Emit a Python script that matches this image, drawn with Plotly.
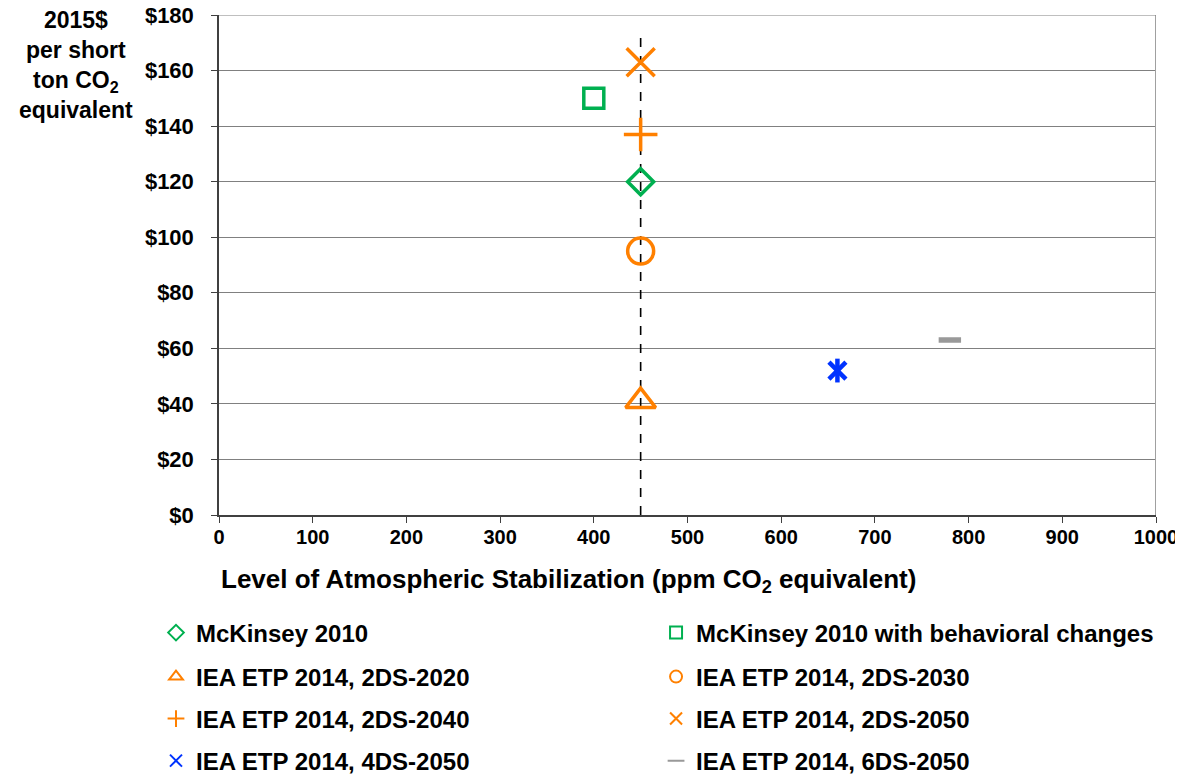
import plotly.graph_objects as go

# one point per study / scenario
names = ["McKinsey 2010", "McKinsey 2010 with behavioral changes",
         "IEA ETP 2014, 2DS-2020", "IEA ETP 2014, 2DS-2030",
         "IEA ETP 2014, 2DS-2040", "IEA ETP 2014, 2DS-2050",
         "IEA ETP 2014, 4DS-2050", "IEA ETP 2014, 6DS-2050"]
ppm = [450, 400, 450, 450, 450, 450, 660, 780]
cost = [120, 150, 41, 95, 137, 163, 52, 63]

symbols = ["diamond-open", "square-open", "triangle-up-open", "circle-open",
           "cross-thin-open", "x-thin-open", "x-thin-open", "line-ew-open"]
sizes = [20, 20, 26, 26, 24, 28, 17, 16]
widths = [3.5, 3.5, 3.5, 3.5, 3.5, 3.5, 4.5, 5.5]
colors = ["#00B050", "#00B050", "#FF8000", "#FF8000", "#FF8000", "#FF8000",
          "#0033FF", "#999999"]

target_ppm = [450, 450]
target_cost = [0, 172]

yticks = list(range(0, 181, 20))
xticks = list(range(0, 1001, 100))

FONT = "Liberation Sans, Arial, sans-serif"

fig = go.Figure()

# dashed reference line at 450 ppm
fig.add_trace(go.Scatter(x=target_ppm, y=target_cost, mode="lines",
                         line=dict(color="black", width=1.6, dash="dash"),
                         showlegend=False, hoverinfo="skip"))

# one legend per entry so the 2x4 grid can be placed freely
legend_ids = ["legend"] + ["legend%d" % k for k in range(2, 9)]

for i, n in enumerate(names):
    fig.add_trace(go.Scatter(
        x=[ppm[i]], y=[cost[i]], mode="markers", name=n, legend=legend_ids[i],
        marker=dict(symbol=symbols[i], size=sizes[i], color=colors[i],
                    line=dict(color=colors[i], width=widths[i]))))

# vertical bar of the 4DS star marker
fig.add_trace(go.Scatter(x=[ppm[6]], y=[cost[6]], mode="markers", showlegend=False,
                         marker=dict(symbol="line-ns-open", size=17, color=colors[6],
                                     line=dict(color=colors[6], width=4.5))))

legend_style = dict(orientation="h", xref="container", yref="container",
                    xanchor="left", yanchor="middle",
                    font=dict(family=FONT, size=24, weight="bold"),
                    itemsizing="constant", bgcolor="rgba(0,0,0,0)")
col_x = [0.1251, 0.5478]
row_y = [0.1946, 0.1379, 0.0838, 0.0296]

legends = {}
for i, lid in enumerate(legend_ids):
    legends[lid] = dict(legend_style, x=col_x[i % 2], y=row_y[i // 2])

fig.update_layout(
    width=1183, height=776,
    paper_bgcolor="white", plot_bgcolor="white",
    margin=dict(l=211, r=35, t=7, b=269),
    font=dict(family=FONT, color="black", size=20),
    **legends,
)

fig.update_xaxes(range=[0, 1000], tickvals=xticks, showgrid=False, zeroline=False,
                 showline=True, linecolor="#404040", linewidth=1.5, automargin=False,
                 ticks="outside", ticklen=6, tickcolor="#404040",
                 ticklabelstandoff=-3, ticklabeloverflow="allow",
                 tickfont=dict(family=FONT, size=20, weight="bold"))
fig.update_yaxes(range=[0, 180], tickvals=yticks,
                 ticktext=["$%d" % v for v in yticks],
                 showgrid=True, gridcolor="#808080", gridwidth=1.2, zeroline=False,
                 showline=True, linecolor="#404040", linewidth=1.5, automargin=False,
                 ticks="outside", ticklen=6, tickcolor="#404040",
                 ticklabelstandoff=13, ticklabeloverflow="allow",
                 tickfont=dict(family=FONT, size=22, weight="bold"))

# right border and top gridline of plot area
fig.add_shape(type="line", xref="x", yref="y", x0=1000, x1=1000, y0=0, y1=180,
              line=dict(color="#A0A0A0", width=2))
fig.add_shape(type="line", xref="x", yref="y", x0=0, x1=1000, y0=180, y1=180,
              line=dict(color="#808080", width=1.2))

fig.add_annotation(xref="paper", yref="paper", x=-0.153, y=1.02,
                   xanchor="center", yanchor="top", showarrow=False,
                   text="2015$<br>per short<br>ton CO<sub>2</sub><br>equivalent",
                   font=dict(family=FONT, size=23, weight="bold"))
fig.add_annotation(xref="paper", yref="paper", x=0.0, y=-0.13,
                   xanchor="left", yanchor="middle", showarrow=False,
                   text="Level of Atmospheric Stabilization (ppm CO<sub>2</sub> equivalent)",
                   font=dict(family=FONT, size=26, weight="bold"))

fig.write_html("out.html")
